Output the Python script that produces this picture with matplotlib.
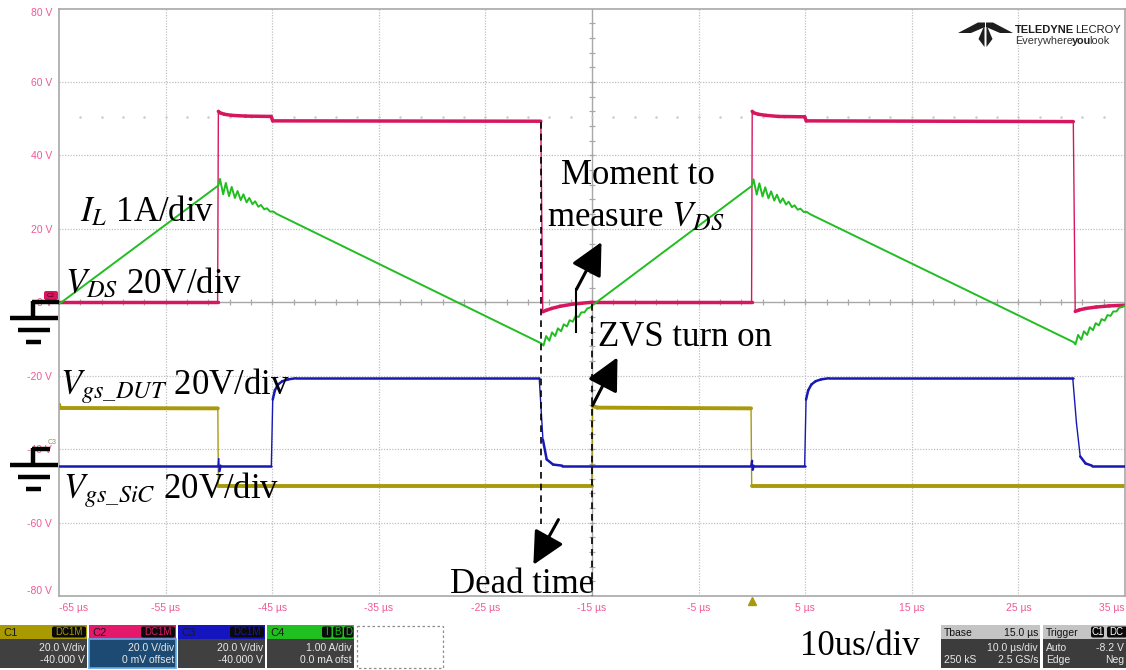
import matplotlib
matplotlib.use('Agg')
import matplotlib.pyplot as plt
from matplotlib.patches import Rectangle, FancyBboxPatch, Polygon
from matplotlib.collections import LineCollection
import numpy as np

plt.rcParams['mathtext.fontset'] = 'stix'

# ---- data (time in us, screen volts on the C2 grid) ----
x_ticks = [-65, -55, -45, -35, -25, -15, -5, 5, 15, 25, 35]
x_labels = ['-65 µs', '-55 µs', '-45 µs', '-35 µs', '-25 µs', '-15 µs', '-5 µs',
            '5 µs', '15 µs', '25 µs', '35 µs']
y_ticks = [80, 60, 40, 20, 0, -20, -40, -60, -80]
y_labels = ['80 V', '60 V', '40 V', '20 V', '0 V', '-20 V', '-40 V', '-60 V', '-80 V']

# C2: V_DS
vds_t = [-65, -50.12, -50.05, -49.9, -49.5, -48.8, -47.5, -45.1, -44.95,
         -19.8, -19.7, -19.62, -19.3, -18.8, -18.0, -16.8, -15.0,
         -0.03, 0.03, 0.15, 0.6, 1.3, 2.5, 4.95, 5.1,
         30.15, 30.25, 30.33, 30.7, 31.3, 32.3, 33.5, 35]
vds_v = [0.2, 0.2, 52.0, 51.6, 51.2, 50.9, 50.7, 50.6, 49.4,
         49.3, 20.0, -2.6, -2.2, -1.7, -1.1, -0.5, 0.0,
         0.0, 52.0, 51.6, 51.2, 50.9, 50.6, 50.5, 49.4,
         49.2, 20.0, -2.5, -2.1, -1.7, -1.3, -1.0, -0.8]

# C4: inductor current (1 A/div)
il_t = [-65, -50.05, -49.9, -49.6, -49.35, -49.05, -48.8, -48.5, -48.25, -47.95, -47.7,
        -47.4, -47.15, -46.85, -46.6, -46.3, -46.05, -45.75, -45.5, -45.2, -44.9, -44.6,
        -19.75, -19.55, -19.3, -19.0, -18.75, -18.45, -18.2, -17.9, -17.65, -17.35, -17.1,
        -16.8, -16.55, -16.25, -16.0, -15.7, -15.45, -15.15, -14.9,
        0.0, 0.15, 0.45, 0.7, 1.0, 1.25, 1.55, 1.8, 2.1, 2.35, 2.65, 2.9, 3.2, 3.45, 3.75,
        4.0, 4.3, 4.55, 4.85, 5.15, 5.45,
        30.2, 30.35, 30.6, 30.9, 31.15, 31.45, 31.7, 32.0, 32.25, 32.55, 32.8, 33.1,
        33.35, 33.65, 33.9, 34.2, 34.45, 34.75, 35.0]
il_v = [-0.5, 31.8, 33.6, 29.4, 32.5, 28.9, 31.4, 28.4, 30.3, 27.8, 29.4,
        27.2, 28.4, 26.7, 27.5, 26.0, 26.5, 25.3, 25.6, 24.7, 24.7, 24.1,
        -11.2, -11.8, -9.2, -10.5, -8.2, -9.2, -7.1, -7.9, -6.0, -6.6, -4.9,
        -5.3, -3.8, -4.0, -2.75, -2.75, -1.7, -1.4, -0.7,
        31.7, 33.5, 29.3, 32.4, 28.8, 31.3, 28.3, 30.2, 27.7, 29.3, 27.1, 28.3, 26.6, 27.4, 25.9,
        26.4, 25.2, 25.5, 24.6, 24.6, 24.0,
        -10.9, -11.5, -8.9, -10.2, -7.9, -8.9, -6.8, -7.6, -5.7, -6.3, -4.6, -5.0,
        -3.5, -3.7, -2.5, -2.5, -1.5, -1.3, -0.9]

# C3: V_gs of the DUT
dut_t = [-65, -50.08, -50.02, -49.95, -49.85,
         -45.08, -44.95, -44.75, -44.45, -44.05, -43.5, -42.8,
         -19.95, -19.6, -19.25, -18.65, -17.8,
         -0.05, 0.02, 0.08, 0.15,
         4.95, 5.08, 5.28, 5.58, 5.98, 6.5, 7.2,
         30.1, 30.45, 30.8, 31.3, 31.9, 35]
dut_v = [-44.5, -44.5, -42.6, -46.0, -44.5,
         -44.5, -26.5, -24.0, -22.4, -21.5, -21.0, -20.7,
         -20.7, -37.5, -42.8, -44.2, -44.5,
         -44.5, -43.2, -45.6, -44.5,
         -44.5, -26.5, -24.0, -22.4, -21.5, -21.0, -20.7,
         -20.7, -33.0, -42.0, -43.9, -44.5, -44.5]

# C1: V_gs of the SiC device
sic_t = [-65, -64.9, -50.1, -50.05, -15.02, -14.95, -14.5, -0.08, -0.02, 35]
sic_v = [-27.8, -28.8, -28.9, -50.0, -50.0, -28.2, -28.7, -28.9, -50.0, -50.0]

c_sic = '#a99a0c'
c_vds = '#d6175f'
c_dut = '#1818b4'
c_il = '#22bd22'
c_tick = '#ef5a96'
serif = 'Liberation Serif'
sans = 'Liberation Sans'
fs = 25

W, H = 1126, 670
fig = plt.figure(figsize=(W / 100, H / 100), dpi=100)
ax = fig.add_axes([59 / W, 1 - 596 / H, (1125 - 59) / W, (596 - 8.5) / H])
ax.set_xlim(-65, 35)
ax.set_ylim(-80, 80)

# grid like the scope screen
for xv in x_ticks[1:-1]:
    if xv != -15:
        ax.axvline(xv, color='#c0c0c0', lw=0.9, ls=(0, (1, 1.2)), zorder=0)
for yv in y_ticks[1:-1]:
    if yv != 0:
        ax.axhline(yv, color='#c0c0c0', lw=0.9, ls=(0, (1, 1.2)), zorder=0)
ax.axhline(0, color='#a8a8a8', lw=1.0, zorder=0)
ax.axvline(-15, color='#a8a8a8', lw=1.0, zorder=0)
ax.plot(np.arange(-63, 35, 2), np.zeros(49), ls='none', marker='|', ms=5,
        color='#a8a8a8', mew=0.9, zorder=0)
ax.plot(np.full(39, -15.0), np.arange(-76, 80, 4), ls='none', marker='_', ms=5,
        color='#a8a8a8', mew=0.9, zorder=0)
ax.plot(np.arange(-63, 35, 2), np.full(49, 50.5), ls='none', marker='.', ms=1.5,
        color='#c8c8c8', zorder=0)


def trace(t, v, color, lw_flat, z):
    # thick where the trace is flat (noise band), thin on the fast edges
    t = np.asarray(t, float)
    v = np.asarray(v, float)
    pts = np.column_stack([t, v])
    segs = np.stack([pts[:-1], pts[1:]], axis=1)
    slope = np.abs(np.diff(v) / np.diff(t))
    widths = np.where(slope > 25, 1.0, lw_flat)
    lc = LineCollection(segs, colors=color, linewidths=widths, capstyle='round',
                        joinstyle='round', zorder=z)
    ax.add_collection(lc)


trace(sic_t, sic_v, c_sic, 2.8, 2)
trace(vds_t, vds_v, c_vds, 2.5, 3)
trace(dut_t, dut_v, c_dut, 1.8, 4)
ax.plot(il_t, il_v, color=c_il, lw=1.4, zorder=5)

for s in ax.spines.values():
    s.set_color('#a8a8a8')
    s.set_linewidth(1.2)

ax.set_xticks(x_ticks)
ax.set_xticklabels(x_labels, fontsize=7.5, family=sans, color=c_tick)
ax.set_yticks(y_ticks)
ax.set_yticklabels(y_labels, fontsize=7.5, family=sans, color=c_tick)
ax.tick_params(length=0, pad=5)
xl = ax.get_xticklabels()
xl[0].set_ha('left')
xl[-1].set_ha('right')
yl = ax.get_yticklabels()
yl[0].set_va('top')
yl[-1].set_va('bottom')

# dashed markers for dead time / ZVS moment
ax.plot([-19.78, -19.78], [49.0, -60.5], color='k', lw=1.2, ls=(0, (4, 3)), zorder=6)
ax.plot([-15.0, -15.0], [-0.5, -80], color='k', lw=1.2, ls=(0, (4, 3)), zorder=6)
ax.plot([-16.46, -16.46], [3.5, -8.2], color='k', lw=1.5, zorder=6)

arrow = dict(arrowstyle='-|>,head_length=1.0,head_width=0.5', mutation_scale=20,
             lw=2.2, color='k', shrinkA=0, shrinkB=0)
ax.annotate('', xy=(-14.11, 16.4), xytext=(-16.46, 3.5), arrowprops=arrow, zorder=7)
ax.annotate('', xy=(-12.61, -15.0), xytext=(-14.95, -28.1), arrowprops=arrow, zorder=7)
ax.annotate('', xy=(-20.5, -71.5), xytext=(-18.15, -59.2), arrowprops=arrow, zorder=7)

# channel labels
txt = dict(fontsize=fs, family=serif, color='k', va='baseline', zorder=8)
ax.text(-63.0, 22.2, r'$I_L$ 1A/div', ha='left', **txt)
ax.text(-64.4, 2.6, r'$V_{DS}$ 20V/div', ha='left', **txt)
ax.text(-64.9, -25.1, r'$V_{gs\_DUT}$ 20V/div', ha='left', **txt)
ax.text(-64.6, -53.5, r'$V_{gs\_SiC}$ 20V/div', ha='left', **txt)
ax.text(-10.7, 32.2, 'Moment to', ha='center', **txt)
ax.text(-19.2, 20.7, r'measure $V_{DS}$', ha='left', **txt)
ax.text(-14.4, -11.9, 'ZVS turn on', ha='left', **txt)
ax.text(-28.3, -79.1, 'Dead time', ha='left', **txt)

# ---- overlay in pixel coordinates: ground marks, status bar, logo ----
ov = fig.add_axes([0, 0, 1, 1], zorder=5)
ov.set_xlim(0, W)
ov.set_ylim(H, 0)
ov.axis('off')

for gy, top_end in [(302, 59), (449, 50)]:
    g = dict(color='k', lw=3.2, solid_capstyle='butt')
    ov.plot([32, top_end], [gy, gy], **g)
    ov.plot([33, 33], [gy - 1.5, gy + 16], **g)
    ov.plot([10, 58], [gy + 16, gy + 16], **g)
    ov.plot([18, 50], [gy + 28, gy + 28], **g)
    ov.plot([26, 41], [gy + 40, gy + 40], **g)

ov.add_patch(FancyBboxPatch((44, 291), 14, 9, boxstyle='round,pad=0,rounding_size=2',
                            fc=c_vds, ec='none'))
ov.text(51, 295.5, 'C2', fontsize=4.5, family=sans, color='#3a0010', ha='center', va='center')
ov.text(52, 443, 'C3', fontsize=5, family=sans, color='#8c8c6a', ha='center', va='center')
ov.plot(752, 601, marker='^', ms=6, color=c_sic)


def badge(x0, x1, s, tc):
    ov.add_patch(FancyBboxPatch((x0, 626.5), x1 - x0, 11, boxstyle='round,pad=0,rounding_size=2',
                                fc='#0a0a0a', ec='none'))
    ov.text((x0 + x1) / 2, 632.3, s, fontsize=7, family=sans, color=tc,
            ha='center', va='center')


chan = [('C1', '#a99a00', '#404040', ['20.0 V/div', '-40.000 V'], 0),
        ('C2', '#e5196b', '#1d4a72', ['20.0 V/div', '0 mV offset'], 89),
        ('C3', '#1515c0', '#404040', ['20.0 V/div', '-40.000 V'], 178),
        ('C4', '#20c020', '#404040', ['1.00 A/div', '0.0 mA ofst'], 267)]
for name, hc, bc, lines, x0 in chan:
    ov.add_patch(Rectangle((x0, 625), 87, 14, fc=hc, ec='none'))
    ov.add_patch(Rectangle((x0, 639), 87, 29, fc=bc, ec='#5aaae8' if name == 'C2' else 'none',
                           lw=1.2))
    ov.text(x0 + 3, 632.5, name, fontsize=8, family=sans, color='#1a1a1a', va='center')
    ov.text(x0 + 85, 648, lines[0], fontsize=7.5, family=sans, color='#e8e8e8',
            ha='right', va='center')
    ov.text(x0 + 85, 660, lines[1], fontsize=7.5, family=sans, color='#e8e8e8',
            ha='right', va='center')
    if name == 'C4':
        for bx, letter in [(322, 'I'), (333, 'B'), (344, 'D')]:
            badge(bx, bx + 9.5, letter, hc)
    else:
        badge(x0 + 52, x0 + 86, 'DC1M', hc)
ov.add_patch(Rectangle((357, 625.5), 86, 42, fc='none', ec='#8c8c8c', lw=0.9, ls=(0, (2, 2))))

ov.text(800, 655, '10us/div', fontsize=fs, family=serif, color='k', va='baseline')

# timebase / trigger boxes
for x0, x1 in [(941, 1040), (1043, 1128)]:
    ov.add_patch(Rectangle((x0, 625), x1 - x0, 14, fc='#c4c4c4', ec='none'))
    ov.add_patch(Rectangle((x0, 639), x1 - x0, 29, fc='#3c3c3c', ec='none'))
st = dict(fontsize=7.5, family=sans, va='center')
ov.text(944, 632.5, 'Tbase', color='#111111', **st)
ov.text(1038, 632.5, '15.0 µs', color='#111111', ha='right', **st)
ov.text(1038, 648, '10.0 µs/div', color='#e8e8e8', ha='right', **st)
ov.text(944, 660, '250 kS', color='#e8e8e8', **st)
ov.text(1038, 660, '2.5 GS/s', color='#e8e8e8', ha='right', **st)
ov.text(1046, 632.5, 'Trigger', color='#111111', **st)
ov.add_patch(FancyBboxPatch((1091, 626.5), 13, 11, boxstyle='round,pad=0,rounding_size=2',
                            fc='#0a0a0a', ec='none'))
ov.text(1097.5, 632.3, 'C1', fontsize=7, family=sans, color='#ffffff', ha='center', va='center')
ov.add_patch(FancyBboxPatch((1107, 626.5), 20, 11, boxstyle='round,pad=0,rounding_size=2',
                            fc='#0a0a0a', ec='none'))
ov.text(1109, 632.3, 'DC', fontsize=7, family=sans, color='#ffffff', va='center')
ov.text(1046, 648, 'Auto', color='#e8e8e8', **st)
ov.text(1124, 648, '-8.2 V', color='#e8e8e8', ha='right', **st)
ov.text(1046, 660, 'Edge', color='#e8e8e8', **st)
ov.text(1124, 660, 'Neg', color='#e8e8e8', ha='right', **st)

# Teledyne LeCroy logo (approximate)
logo = '#1e1e1e'
for pts in [[(958, 33), (978, 22.5), (985, 22.5), (985, 27), (971, 33)],
            [(1013, 33), (993, 22.5), (986, 22.5), (986, 27), (1000, 33)],
            [(984.5, 25), (978.5, 39), (984.5, 47)],
            [(986.5, 25), (992.5, 39), (986.5, 47)]]:
    ov.add_patch(Polygon(pts, closed=True, fc=logo, ec='none'))
ov.text(1015, 33, 'TELEDYNE', fontsize=8, family=sans, weight='bold', color=logo,
        va='baseline', ha='left')
ov.text(1075, 33, 'LECROY', fontsize=8, family=sans, color=logo, va='baseline', ha='left')
ov.text(1015, 44, 'Everywhere', fontsize=7.8, family=sans, color='#333333',
        va='baseline', ha='left')
ov.text(1072, 44, 'you', fontsize=7.8, family=sans, weight='bold', color='#222222',
        va='baseline', ha='left')
ov.text(1089, 44, 'look', fontsize=7.8, family=sans, color='#333333', va='baseline', ha='left')

fig.savefig('out.png', dpi=100)
